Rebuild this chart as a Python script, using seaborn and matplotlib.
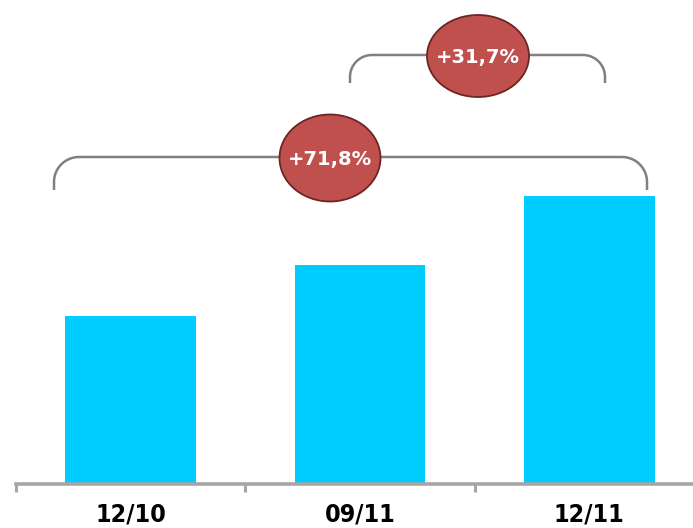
import numpy as np
import pandas as pd
import seaborn as sns
import matplotlib.pyplot as plt
from matplotlib.patches import Ellipse
from matplotlib.lines import Line2D

# Period labels and volumes (index, 12/10 = 100)
periods = ["12/10", "09/11", "12/11"]
volumes = [100.0, 130.4, 171.8]

df = pd.DataFrame({"period": periods, "volume": volumes})


def growth_label(start, end):
    return "+" + f"{(end / start - 1) * 100:.1f}".replace(".", ",") + "%"


sns.set_theme(style="white")
plt.rcParams["font.family"] = ["DejaVu Sans"]

W, H = 693, 528
fig = plt.figure(figsize=(W / 100, H / 100), dpi=100)
fig.patch.set_facecolor("white")

ax = fig.add_axes([16 / W, 44 / H, 688 / W, 484 / H])
sns.barplot(data=df, x="period", y="volume", color="#00CCFF", saturation=1,
            width=0.57, linewidth=0, ax=ax)
ax.set_xlim(-0.5, 2.5)
ax.set_ylim(0, 288.8)
ax.set_xlabel("")
ax.set_ylabel("")
ax.set_yticks([])
for side in ("top", "right", "left"):
    ax.spines[side].set_visible(False)
ax.spines["bottom"].set_color("#a6a6a6")
ax.spines["bottom"].set_linewidth(2.6)
ax.set_xticks([-0.5, 0.5, 1.5], minor=True)
ax.tick_params(axis="x", which="minor", direction="out", length=6,
               width=2.2, color="#a6a6a6", bottom=True)
ax.tick_params(axis="x", which="major", length=0, pad=13)
for lbl in ax.get_xticklabels():
    lbl.set_fontfamily(["DejaVu Sans"])
    lbl.set_fontstretch("condensed")
    lbl.set_fontweight("bold")
    lbl.set_fontsize(18)
    lbl.set_color("black")

# Overlay in pixel coordinates for the growth brackets
ov = fig.add_axes([0, 0, 1, 1], zorder=5)
ov.set_xlim(0, W)
ov.set_ylim(H, 0)
ov.axis("off")
ov.patch.set_alpha(0)


def bracket(x0, x1, yh, ybot, r):
    t = np.linspace(0, np.pi / 2, 30)
    left_x = x0 + r - r * np.cos(t)
    left_y = yh + r - r * np.sin(t)
    right_x = x1 - r + r * np.sin(t)
    right_y = yh + r - r * np.cos(t)
    xs = np.concatenate([[x0], left_x, right_x, [x1]])
    ys = np.concatenate([[ybot], left_y, right_y, [ybot]])
    ov.add_line(Line2D(xs, ys, color="#808080", lw=1.8, solid_capstyle="butt"))


def bubble(cx, cy, w, h, text):
    ov.add_patch(Ellipse((cx, cy), w, h, facecolor="#C0504D",
                         edgecolor="#6B2624", lw=1.3, zorder=3))
    ov.text(cx, cy + 1, text, color="white", fontsize=14, fontweight="bold",
            ha="center", va="center", zorder=4)


bracket(54, 647, 157, 190, 25)
bracket(350, 605, 55, 83, 22)
bubble(330, 158, 101, 87, growth_label(volumes[0], volumes[2]))
bubble(478, 56, 102, 82, growth_label(volumes[1], volumes[2]))

fig.savefig("out.png", dpi=100, facecolor="white")
